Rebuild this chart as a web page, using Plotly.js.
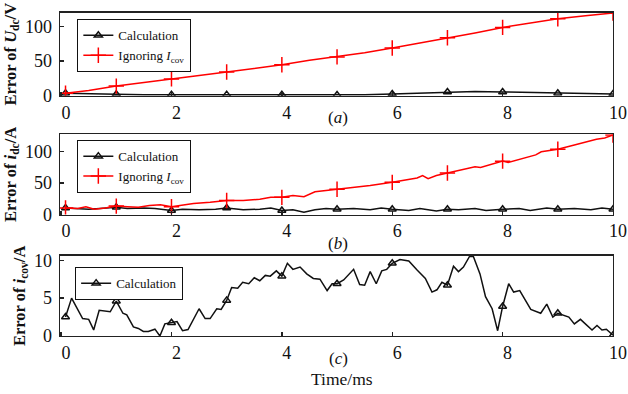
<!DOCTYPE html>
<html>
<head>
<meta charset="utf-8">
<script src="https://cdn.plot.ly/plotly-3.0.1.min.js"></script>
<style>html,body{margin:0;padding:0;background:#fff;}#chart{width:628px;height:394px;}</style>
</head>
<body>
<div id="chart"></div>
<script>
// ---------- data ----------
const markerTimes = [0.08, 1, 2, 3, 4, 5, 6, 7, 8, 9, 10];
const xTicks = [0, 2, 4, 6, 8, 10];

// Panel (a): error of U_dc (V)
const tA = [0.08, 0.5, 1, 1.5, 2, 2.5, 3, 3.5, 4, 4.5, 5, 5.5, 6, 6.5, 7, 7.5, 8, 8.5, 9, 9.5, 10];
const uCalc = [3, 2, 1.5, 1, 1, 0.8, 1, 0.8, 1, 0.5, 0.5, 1, 2, 3.5, 5, 5.5, 5, 4, 3, 2.5, 2];
const uIgnore = [3, 7, 13.5, 19, 24, 29, 34, 39, 44.5, 51, 56, 62, 69, 76, 84, 91, 99, 105, 111.5, 116, 120];

// Panel (b): error of i_dc (A)
const tBcalc = [0.08, 0.3, 0.5, 0.7, 1, 1.2, 1.5, 1.7, 2, 2.2, 2.5, 2.8, 3, 3.3, 3.6, 3.8, 4, 4.2, 4.4, 4.6, 4.8, 5, 5.3, 5.6, 5.8, 6, 6.3, 6.5, 6.8, 7, 7.2, 7.5, 7.7, 8, 8.3, 8.5, 8.8, 9, 9.3, 9.6, 9.8, 10];
const iCalc = [10, 9, 8, 9, 11, 9, 10, 9, 6, 8, 7, 8, 10, 7, 8, 10, 6, 7, 3, 7, 9, 8, 9, 7, 10, 8, 6, 9, 5, 8, 7, 9, 6, 8, 9, 6, 10, 8, 9, 7, 10, 8];
const tBign = [0.08, 0.3, 0.45, 0.6, 0.8, 1, 1.2, 1.4, 1.6, 1.8, 2, 2.2, 2.4, 2.7, 3, 3.3, 3.6, 3.8, 4, 4.2, 4.4, 4.6, 4.8, 5, 5.3, 5.6, 6, 6.3, 6.45, 6.55, 6.65, 6.8, 7, 7.3, 7.5, 7.6, 7.8, 8, 8.1, 8.3, 8.5, 8.6, 8.7, 8.8, 9, 9.3, 9.5, 9.7, 9.85, 10];
const iIgnore = [10, 9, 12, 8, 10, 13, 12, 11, 14, 15, 12, 15, 17, 19, 22, 22, 24, 27, 27, 30, 28, 36, 38, 40, 42, 46, 51, 55, 58, 62, 57, 62, 66, 72, 76, 75, 80, 85, 83, 88, 92, 95, 100, 101, 104, 111, 116, 120, 122, 127];

// Panel (c): error of i_cov (A)
const tC = [0.08, 0.19, 0.39, 0.5, 0.59, 0.69, 0.89, 1, 1.12, 1.19, 1.31, 1.4, 1.49, 1.58, 1.7, 1.79, 1.88, 2, 2.1, 2.2, 2.3, 2.5, 2.61, 2.7, 2.82, 2.9, 3, 3.09, 3.2, 3.29, 3.4, 3.5, 3.6, 3.7, 3.79, 3.9, 4, 4.1, 4.2, 4.33, 4.45, 4.57, 4.69, 4.82, 4.91, 5, 5.12, 5.3, 5.41, 5.5, 5.6, 5.71, 5.81, 5.9, 6, 6.14, 6.3, 6.45, 6.6, 6.72, 6.81, 6.9, 7, 7.11, 7.2, 7.29, 7.4, 7.47, 7.59, 7.69, 7.81, 7.91, 8, 8.11, 8.2, 8.31, 8.41, 8.51, 8.69, 8.8, 8.91, 9, 9.2, 9.3, 9.41, 9.5, 9.62, 9.71, 9.8, 9.88, 10];
const covCalc = [2.5, 5.0, 2.3, 2.2, 0.8, 3.4, 3.2, 4.6, 3.0, 2.8, 1.2, 1.0, 0.6, 0.6, 0.9, 0.0, 1.6, 1.75, 1.9, 0.7, 0.85, 3.6, 2.3, 2.3, 3.6, 3.5, 4.7, 6.4, 6.3, 7.1, 6.9, 7.7, 7.3, 8.0, 7.9, 8.6, 7.9, 9.6, 8.8, 9.1, 8.2, 7.6, 7.5, 6.0, 6.9, 6.9, 7.4, 8.8, 6.8, 6.7, 8.5, 6.9, 8.6, 8.8, 9.6, 10.1, 9.9, 8.7, 7.6, 5.8, 6.1, 7.1, 6.7, 9.2, 8.5, 9.1, 10.5, 10.5, 8.2, 5.2, 3.6, 0.7, 3.9, 6.9, 5.8, 6.0, 4.7, 3.5, 3.0, 4.2, 2.5, 3.0, 2.5, 1.6, 2.2, 1.6, 0.8, 1.4, 0.8, 0.9, 0.1];

// ---------- styling ----------
const FONT = 'Liberation Serif, "Times New Roman", serif';
const BLACK = '#111111';
const RED = '#ff0000';
const calcMarker = {symbol: 'triangle-up-open', size: 7, color: BLACK, line: {width: 1.5, color: BLACK}};
const ignMarker = {symbol: 'cross-thin-open', size: 11, color: RED, line: {width: 1.5, color: RED}};

function pickMarkers(t, v) {
  const xs = [], ys = [];
  markerTimes.forEach(m => {
    const i = t.findIndex(tt => Math.abs(tt - m) < 1e-6);
    if (i >= 0) { xs.push(t[i]); ys.push(v[i]); }
  });
  return {x: xs, y: ys};
}

function series(t, v, color, marker, xa, ya, name, legend) {
  const m = pickMarkers(t, v);
  return [
    {x: t, y: v, xaxis: xa, yaxis: ya, mode: 'lines', line: {color: color, width: 1.5}, showlegend: false, hoverinfo: 'skip'},
    {x: m.x, y: m.y, xaxis: xa, yaxis: ya, mode: 'markers', marker: marker, showlegend: false, hoverinfo: 'skip'},
    {x: [null], y: [null], xaxis: xa, yaxis: ya, mode: 'lines+markers', line: {color: color, width: 1.5}, marker: marker, name: name, legend: legend, showlegend: true}
  ];
}

const ignName = 'Ignoring <i>I</i><sub>cov</sub>';
const data = [].concat(
  series(tA, uCalc, BLACK, calcMarker, 'x', 'y', 'Calculation', 'legend'),
  series(tA, uIgnore, RED, ignMarker, 'x', 'y', ignName, 'legend'),
  series(tBcalc, iCalc, BLACK, calcMarker, 'x2', 'y2', 'Calculation', 'legend2'),
  series(tBign, iIgnore, RED, ignMarker, 'x2', 'y2', ignName, 'legend2'),
  series(tC, covCalc, BLACK, calcMarker, 'x3', 'y3', 'Calculation', 'legend3')
);

const common = {
  showline: true, mirror: true, linecolor: '#222', linewidth: 1.3,
  ticks: 'inside', ticklen: 4, tickwidth: 1.3, tickcolor: '#222',
  showgrid: false, zeroline: false,
  tickfont: {family: FONT, size: 18, color: BLACK}
};
function xAxis(anchor) {
  return Object.assign({}, common, {anchor: anchor, range: [-0.02, 10], tickvals: xTicks, ticktext: xTicks.map(String), ticklabelshift: 5});
}
function yAxis(anchor, domain, range, tickvals, title) {
  return Object.assign({}, common, {
    anchor: anchor, domain: domain, range: range, tickvals: tickvals, ticktext: tickvals.map(String),
    ticklabelstandoff: 3,
    title: {text: title, font: {family: FONT, size: 16.5, color: BLACK}, standoff: 4}
  });
}
const legendCommon = {
  xref: 'paper', yref: 'paper', xanchor: 'left', yanchor: 'top',
  bgcolor: '#ffffff', bordercolor: BLACK, borderwidth: 1.2,
  font: {family: FONT, size: 13, color: BLACK},
  tracegroupgap: 0
};
const ann = (x, y, text, size) => ({xref: 'paper', yref: 'paper', x: x, y: y, xanchor: 'center', yanchor: 'middle', showarrow: false, text: text, font: {family: FONT, size: size, color: BLACK}});

const layout = {
  width: 628, height: 394,
  margin: {l: 60, r: 15, t: 12, b: 58},
  paper_bgcolor: '#fff', plot_bgcolor: '#fff',
  showlegend: true,
  xaxis: xAxis('y'),
  xaxis2: xAxis('y2'),
  xaxis3: xAxis('y3'),
  yaxis: yAxis('x', [0.7417, 0.998], [-0.5, 120.5], [0, 50, 100], '<b>Error of <i>U</i><sub>dc</sub>/V</b>'),
  yaxis2: yAxis('x2', [0.375, 0.6225], [-0.5, 128], [0, 50, 100], '<b>Error of <i>i</i><sub>dc</sub>/A</b>'),
  yaxis3: yAxis('x3', [0, 0.2478], [0, 10.6], [0, 5, 10], '<b>Error of <i>i</i><sub>cov</sub>/A</b>'),
  legend: Object.assign({}, legendCommon, {x: 0.031, y: 0.978}),
  legend2: Object.assign({}, legendCommon, {x: 0.031, y: 0.605}),
  legend3: Object.assign({}, legendCommon, {x: 0.027, y: 0.213}),
  annotations: [
    ann(0.503, 0.674, '(<i>a</i>)', 17),
    ann(0.503, 0.287, '(<i>b</i>)', 17),
    ann(0.503, -0.068, '(<i>c</i>)', 17),
    ann(0.51, -0.132, 'Time/ms', 17.5)
  ]
};

Plotly.newPlot('chart', data, layout, {staticPlot: true, displayModeBar: false});
</script>
</body>
</html>
